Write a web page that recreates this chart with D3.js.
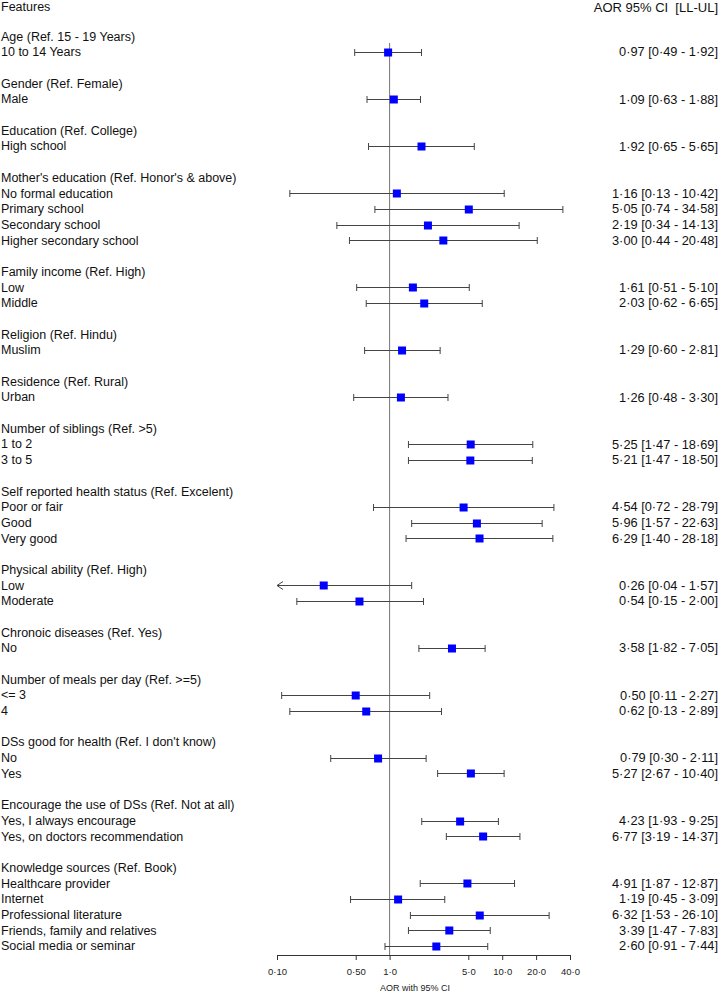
<!DOCTYPE html>
<html><head><meta charset="utf-8">
<script src="https://cdn.jsdelivr.net/npm/d3@7"></script>
<style>body{margin:0;background:#fff}svg{display:block}text{font-family:"Liberation Sans",Arial,sans-serif}</style>
</head><body>
<svg id="c" width="723" height="992"></svg>
<script>
// line layout: group header lines (null values) and data rows, blank lines separate groups
const labels = [
 "Age (Ref. 15 - 19 Years)","10 to 14 Years","",
 "Gender (Ref. Female)","Male","",
 "Education (Ref. College)","High school","",
 "Mother's education (Ref. Honor's & above)","No formal education","Primary school","Secondary school","Higher secondary school","",
 "Family income (Ref. High)","Low","Middle","",
 "Religion (Ref. Hindu)","Muslim","",
 "Residence (Ref. Rural)","Urban","",
 "Number of siblings (Ref. >5)","1 to 2","3 to 5","",
 "Self reported health status (Ref. Excelent)","Poor or fair","Good","Very good","",
 "Physical ability (Ref. High)","Low","Moderate","",
 "Chronoic diseases (Ref. Yes)","No","",
 "Number of meals per day (Ref. >=5)","<= 3","4","",
 "DSs good for health (Ref. I don't know)","No","Yes","",
 "Encourage the use of DSs (Ref. Not at all)","Yes, I always encourage","Yes, on doctors recommendation","",
 "Knowledge sources (Ref. Book)","Healthcare provider","Internet","Professional literature","Friends, family and relatives","Social media or seminar"
];
const aor = [null,0.97,null, null,1.09,null, null,1.92,null, null,1.16,5.05,2.19,3.00,null,
 null,1.61,2.03,null, null,1.29,null, null,1.26,null, null,5.25,5.21,null,
 null,4.54,5.96,6.29,null, null,0.26,0.54,null, null,3.58,null, null,0.50,0.62,null,
 null,0.79,5.27,null, null,4.23,6.77,null, null,4.91,1.19,6.32,3.39,2.60];
const lower = [null,0.49,null, null,0.63,null, null,0.65,null, null,0.13,0.74,0.34,0.44,null,
 null,0.51,0.62,null, null,0.60,null, null,0.48,null, null,1.47,1.47,null,
 null,0.72,1.57,1.40,null, null,0.04,0.15,null, null,1.82,null, null,0.11,0.13,null,
 null,0.30,2.67,null, null,1.93,3.19,null, null,1.87,0.45,1.53,1.47,0.91];
const upper = [null,1.92,null, null,1.88,null, null,5.65,null, null,10.42,34.58,14.13,20.48,null,
 null,5.10,6.65,null, null,2.81,null, null,3.30,null, null,18.69,18.50,null,
 null,28.79,22.63,28.18,null, null,1.57,2.00,null, null,7.05,null, null,2.27,2.89,null,
 null,2.11,10.40,null, null,9.25,14.37,null, null,12.87,3.09,26.10,7.83,7.44];
const tickValues = [0.1,0.5,1,5,10,20,40];
const tickLabels = ["0·10","0·50","1·0","5·0","10·0","20·0","40·0"];

const svg = d3.select("#c");
const x = d3.scaleLog().domain([0.1,40]).range([277,570]);
const y = d3.scaleLinear().domain([1,58]).range([52,946]);
const fmt = v => v.toFixed(2).replace(".","·");
const FS = 12.5;

// headers
svg.append("text").attr("x",1).attr("y",7).attr("dy","0.35em").attr("font-size",FS).attr("fill","#111").text("Features");
svg.append("text").attr("x",718).attr("y",7).attr("dy","0.35em").attr("font-size",13).attr("text-anchor","end").attr("fill","#111")
  .attr("xml:space","preserve").text("AOR 95% CI  [LL-UL]");

// reference line
svg.append("line").attr("x1",x(1)).attr("x2",x(1)).attr("y1",43).attr("y2",955).attr("stroke","#777").attr("stroke-width",1);

// left labels
svg.append("g").selectAll("text").data(labels.map((l,i)=>({l,i})).filter(d=>d.l!==""))
 .join("text").attr("x",1).attr("y",d=>y(d.i)).attr("dy","0.35em").attr("font-size",FS).attr("fill","#111").text(d=>d.l);

const rows = labels.map((l,i)=>({i,a:aor[i],lo:lower[i],hi:upper[i]})).filter(d=>d.a!==null);
const g = svg.append("g");
const lineCol = "#444";
rows.forEach(d=>{
  const yy = Math.round(y(d.i))+0.5;
  const clipped = d.lo < 0.1;
  const xl = clipped ? x(0.1) : x(d.lo);
  const xr = x(d.hi);
  g.append("line").attr("x1",xl).attr("x2",xr).attr("y1",yy).attr("y2",yy).attr("stroke",lineCol);
  if (clipped) {
    g.append("path").attr("d",`M${xl+6},${yy-4}L${xl},${yy}L${xl+6},${yy+4}`).attr("fill","none").attr("stroke",lineCol);
  } else {
    g.append("line").attr("x1",xl).attr("x2",xl).attr("y1",yy-3.5).attr("y2",yy+3.5).attr("stroke",lineCol);
  }
  g.append("line").attr("x1",xr).attr("x2",xr).attr("y1",yy-3.5).attr("y2",yy+3.5).attr("stroke",lineCol);
  g.append("rect").attr("x",x(d.a)-4).attr("y",yy-4).attr("width",8).attr("height",8).attr("fill","#0000ff");
  svg.append("text").attr("x",718).attr("y",y(d.i)).attr("dy","0.35em").attr("font-size",12.8).attr("text-anchor","end")
    .attr("fill","#111").text(`${fmt(d.a)} [${fmt(d.lo)} - ${fmt(d.hi)}]`);
});

// x axis
const ax = svg.append("g").attr("transform","translate(0,955)")
 .call(d3.axisBottom(x).tickValues(tickValues).tickFormat((d,i)=>tickLabels[i]).tickSize(5).tickSizeOuter(0));
ax.select(".domain").attr("stroke","#333");
ax.selectAll(".tick line").attr("stroke","#333");
ax.selectAll("text").attr("font-size",9.5).attr("fill","#222").attr("dy",null).attr("y",17).attr("dominant-baseline","middle");
svg.append("text").attr("x",415).attr("y",988).attr("dy","0.35em").attr("font-size",9).attr("text-anchor","middle").attr("fill","#222").text("AOR with 95% CI");
</script>
</body></html>
